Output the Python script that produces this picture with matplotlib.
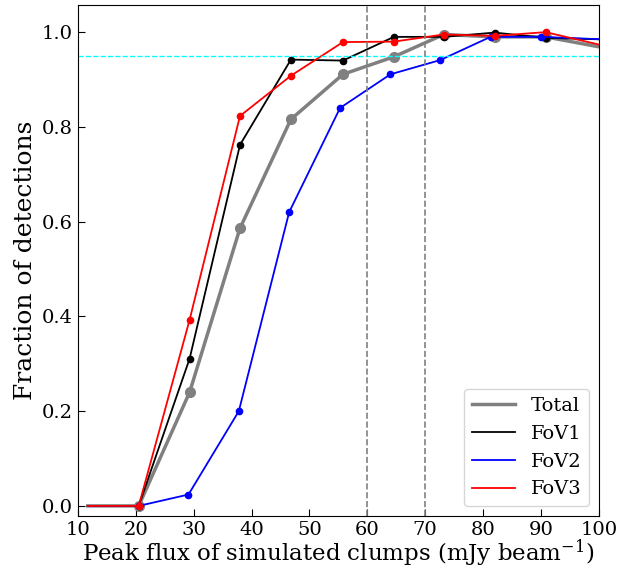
import matplotlib
matplotlib.use("Agg")
import matplotlib.pyplot as plt
from matplotlib.lines import Line2D

plt.rcParams["font.family"] = "DejaVu Serif"
plt.rcParams["mathtext.fontset"] = "dejavuserif"

# flux grid (mJy/beam) and detection fractions
flux = [11.7, 20.5, 29.3, 38.0, 46.8, 55.8, 64.6, 73.2, 82.0, 90.8, 108.4]
flux_fov2 = [11.7, 20.5, 29.1, 37.8, 46.5, 55.3, 64.0, 72.6, 81.3, 90.1, 108.4]

frac_total = [0.0, 0.0, 0.240, 0.586, 0.816, 0.911, 0.948, 0.995, 0.990, 0.990, 0.950]
frac_fov1 = [0.0, 0.0, 0.311, 0.762, 0.942, 0.940, 0.990, 0.990, 0.999, 0.988, 0.982]
frac_fov2 = [0.0, 0.0, 0.024, 0.200, 0.620, 0.840, 0.911, 0.941, 0.990, 0.990, 0.981]
frac_fov3 = [0.0, 0.0, 0.393, 0.823, 0.908, 0.979, 0.980, 0.995, 0.992, 1.000, 0.950]

fig = plt.figure(figsize=(6.39, 5.70), dpi=100)
ax = fig.add_axes([0.122, 0.095, 0.815, 0.896])

marks = slice(1, -1)
ax.plot(flux, frac_total, color="grey", lw=2.5, marker="o", ms=7, markevery=marks)
ax.plot(flux, frac_fov1, color="black", lw=1.3, marker="o", ms=4.5, markevery=marks)
ax.plot(flux_fov2, frac_fov2, color="blue", lw=1.3, marker="o", ms=4.5, markevery=marks)
ax.plot(flux, frac_fov3, color="red", lw=1.3, marker="o", ms=4.5, markevery=marks)

ax.axhline(0.95, color="cyan", ls="--", lw=1)
ax.axvline(60, color="grey", ls="--", lw=1.2)
ax.axvline(70, color="grey", ls="--", lw=1.2)

ax.set_xlim(10, 100)
ax.set_ylim(-0.021, 1.057)
ax.set_xticks(range(10, 101, 10))
ax.set_yticks([0.0, 0.2, 0.4, 0.6, 0.8, 1.0])
ax.tick_params(direction="in", labelsize=14, length=5)

ax.set_xlabel(r"Peak flux of simulated clumps (mJy beam$^{-1}$)", fontsize=16.5, labelpad=-1)
ax.set_ylabel("Fraction of detections", fontsize=18)

handles = [
    Line2D([], [], color="grey", lw=2.5),
    Line2D([], [], color="black", lw=1.3),
    Line2D([], [], color="blue", lw=1.3),
    Line2D([], [], color="red", lw=1.3),
]
ax.legend(handles, ["Total", "FoV1", "FoV2", "FoV3"], loc="lower right", fontsize=14, handlelength=2.2)

fig.savefig("out.png", dpi=100)
